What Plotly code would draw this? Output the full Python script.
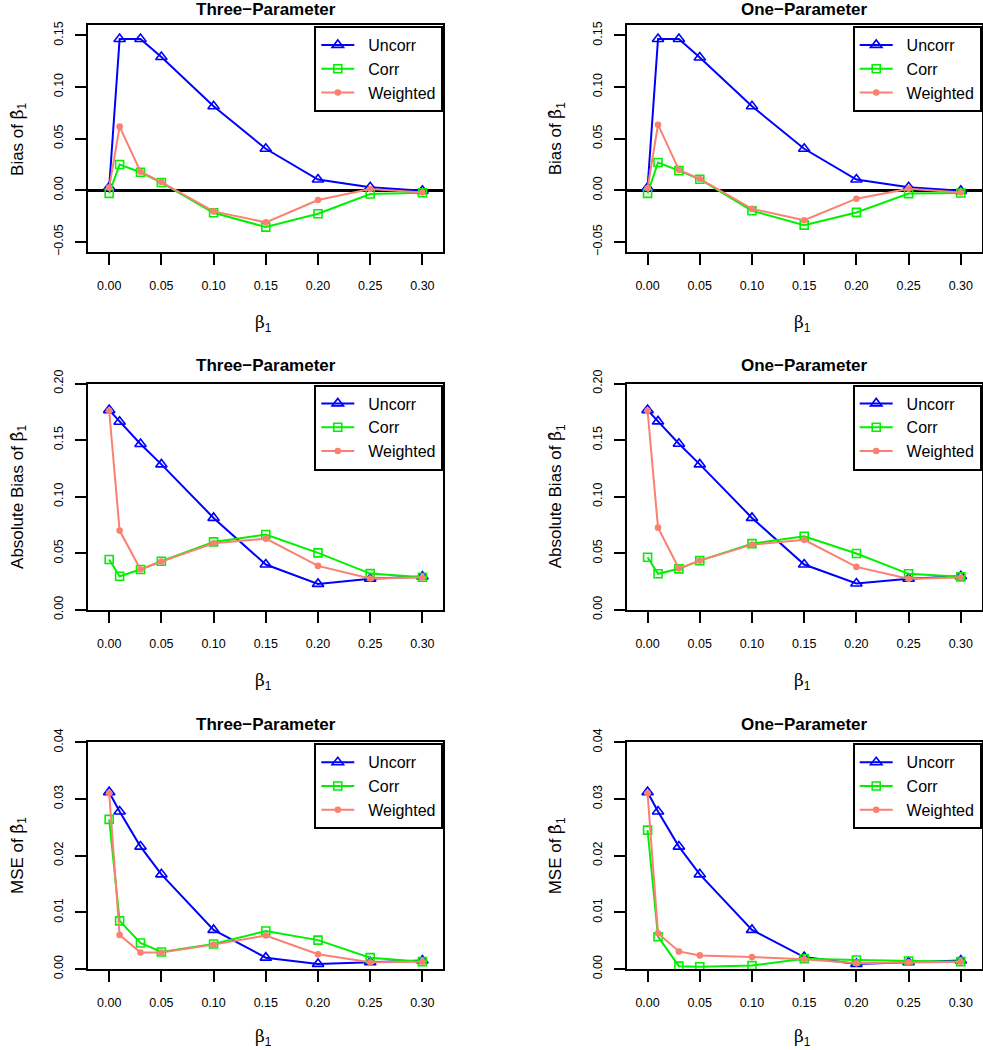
import plotly.graph_objects as go

# ---------------- data ----------------
beta1 = [0.00, 0.01, 0.03, 0.05, 0.10, 0.15, 0.20, 0.25, 0.30]
methods = ["Uncorr", "Corr", "Weighted"]
panel_titles = ["Three−Parameter", "One−Parameter"]
row_labels = ["Bias of", "Absolute Bias of", "MSE of"]
x_ticks = [0.00, 0.05, 0.10, 0.15, 0.20, 0.25, 0.30]
y_ticks_bias = [-0.05, 0.00, 0.05, 0.10, 0.15]
y_ticks_abs = [0.00, 0.05, 0.10, 0.15, 0.20]
y_ticks_mse = [0.00, 0.01, 0.02, 0.03, 0.04]

bias_three_uncorr = [0.003, 0.1464, 0.1464, 0.129, 0.0813, 0.0402, 0.0104, 0.0029, -0.0005]
bias_three_corr = [-0.003, 0.025, 0.0175, 0.0075, -0.0217, -0.0356, -0.0227, -0.0036, -0.0023]
bias_three_weighted = [0.0026, 0.0616, 0.018, 0.008, -0.0204, -0.031, -0.0094, 0.0013, -0.002]

bias_one_uncorr = [0.0026, 0.1464, 0.1464, 0.1286, 0.0813, 0.0402, 0.0104, 0.0029, -0.0005]
bias_one_corr = [-0.003, 0.0269, 0.0191, 0.0107, -0.0198, -0.0337, -0.0214, -0.0032, -0.0026]
bias_one_weighted = [0.002, 0.0635, 0.0198, 0.011, -0.018, -0.029, -0.0081, 0.0016, -0.002]

abs_three_uncorr = [0.1765, 0.1662, 0.1465, 0.1285, 0.0812, 0.040, 0.0229, 0.0274, 0.0294]
abs_three_corr = [0.0444, 0.0297, 0.0356, 0.0429, 0.060, 0.0665, 0.0503, 0.032, 0.0288]
abs_three_weighted = [0.1759, 0.070, 0.0356, 0.0426, 0.0588, 0.0629, 0.0388, 0.0276, 0.0285]

abs_one_uncorr = [0.1765, 0.1665, 0.1468, 0.1285, 0.0812, 0.040, 0.0232, 0.0274, 0.0297]
abs_one_corr = [0.0465, 0.0318, 0.0362, 0.0435, 0.0585, 0.065, 0.0497, 0.0318, 0.0291]
abs_one_weighted = [0.1759, 0.0726, 0.0365, 0.0435, 0.0576, 0.0618, 0.0379, 0.0274, 0.0285]

mse_three_uncorr = [0.0312, 0.0278, 0.0216, 0.0167, 0.0069, 0.0020, 0.0009, 0.0012, 0.0015]
mse_three_corr = [0.0264, 0.0085, 0.0046, 0.0030, 0.0044, 0.0067, 0.0051, 0.0020, 0.0013]
mse_three_weighted = [0.0310, 0.0060, 0.0029, 0.0029, 0.0043, 0.0059, 0.0026, 0.0012, 0.0013]

mse_one_uncorr = [0.0312, 0.0278, 0.0216, 0.0167, 0.0069, 0.0021, 0.0009, 0.0012, 0.0015]
mse_one_corr = [0.0245, 0.0057, 0.0005, 0.0004, 0.0006, 0.0018, 0.0016, 0.0014, 0.0013]
mse_one_weighted = [0.0310, 0.0063, 0.0031, 0.0024, 0.0021, 0.0017, 0.0010, 0.0012, 0.0013]

panels = [
    [[bias_three_uncorr, bias_three_corr, bias_three_weighted],
     [bias_one_uncorr, bias_one_corr, bias_one_weighted]],
    [[abs_three_uncorr, abs_three_corr, abs_three_weighted],
     [abs_one_uncorr, abs_one_corr, abs_one_weighted]],
    [[mse_three_uncorr, mse_three_corr, mse_three_weighted],
     [mse_one_uncorr, mse_one_corr, mse_one_weighted]],
]

# ---------------- layout / style ----------------
W, H = 983, 1050
FONT = "Liberation Sans, Arial, sans-serif"
SERIF = "'DejaVu Serif', 'Liberation Serif', serif"
colors = ["#0000FF", "#00F000", "#FA8072"]
symbols = ["triangle-up-open", "square-open", "circle"]
msizes = [10, 8, 5]
lwidths = [2, 2, 2]

col_px = [(88.3, 443.3), (626.7, 981.7)]
row_px = [(25.0, 252.3), (383.5, 609.8), (742.3, 969.0)]
title_px = [10, 365, 724]
xtitle_off = [71, 72, 68]
y_ranges = [[-0.06, 0.16], [0.0, 0.20], [0.0, 0.04]]
y_tickvals = [y_ticks_bias, y_ticks_abs, y_ticks_mse]
x_range = [-0.02, 0.32]

def fx(px):
    return px / W

def fy(py):
    return 1 - py / H

fig = go.Figure()
annotations = []
layout = {}

for r in range(3):
    for c in range(2):
        k = r * 2 + c + 1
        xa = "x" if k == 1 else f"x{k}"
        ya = "y" if k == 1 else f"y{k}"
        lg = "legend" if k == 1 else f"legend{k}"
        for m in range(3):
            fig.add_trace(go.Scatter(
                x=beta1, y=panels[r][c][m], mode="lines+markers",
                name="  " + methods[m], xaxis=xa, yaxis=ya, legend=lg,
                line=dict(color=colors[m], width=lwidths[m]),
                marker=dict(symbol=symbols[m], size=msizes[m], color=colors[m],
                            line=dict(color=colors[m], width=1.6)),
                showlegend=True, cliponaxis=True,
            ))
        x0, x1 = col_px[c]
        y0, y1 = row_px[r]
        axis_common = dict(showline=True, mirror=True, linecolor="black", linewidth=2,
                           ticks="outside", ticklen=11, tickwidth=2, tickcolor="black",
                           showgrid=False, automargin=False,
                           tickfont=dict(family=FONT, size=12.5, color="black"),
                           tickformat=".2f")
        layout["xaxis" if k == 1 else f"xaxis{k}"] = dict(
            domain=[fx(x0), fx(x1)], range=x_range, anchor=ya,
            tickvals=x_ticks, zeroline=False, ticklabelstandoff=10, **axis_common)
        layout["yaxis" if k == 1 else f"yaxis{k}"] = dict(
            domain=[fy(y1), fy(y0)], range=y_ranges[r], anchor=xa,
            tickvals=y_tickvals[r], tickangle=-90, ticklabelstandoff=7,
            zeroline=(r == 0), zerolinecolor="black", zerolinewidth=3, **axis_common)
        layout[lg] = dict(x=fx(x1), y=fy(y0 + 1), xanchor="right", yanchor="top",
                          bgcolor="white", bordercolor="black", borderwidth=2,
                          font=dict(family=FONT, size=16, color="black"),
                          itemwidth=33, tracegroupgap=0)
        xc = (x0 + x1) / 2
        # panel title
        annotations.append(dict(text="<b>" + panel_titles[c] + "</b>", x=fx(xc), y=fy(title_px[r]),
                                xref="paper", yref="paper", showarrow=False,
                                xanchor="center", yanchor="middle",
                                font=dict(family=FONT, size=17, color="black")))
        # x title
        annotations.append(dict(text=f"<span style=\"font-family:{SERIF}\">β</span><sub>1</sub>",
                                x=fx(xc - 2), y=fy(y1 + xtitle_off[r]), xref="paper", yref="paper",
                                showarrow=False, xanchor="center", yanchor="middle",
                                font=dict(family=FONT, size=17, color="black")))
        # y title
        annotations.append(dict(text=row_labels[r] + f" <span style=\"font-family:{SERIF}\">β\u0302</span><sub>1</sub>",
                                x=fx(x0 - 70), y=fy((y0 + y1) / 2), xref="paper", yref="paper",
                                showarrow=False, xanchor="center", yanchor="middle", textangle=-90,
                                font=dict(family=FONT, size=17, color="black")))

fig.update_layout(width=W, height=H, autosize=False,
                  margin=dict(l=0, r=0, t=0, b=0, pad=0, autoexpand=False),
                  paper_bgcolor="white", plot_bgcolor="white",
                  font=dict(family=FONT, color="black"),
                  annotations=annotations, **layout)

post = ("document.documentElement.style.margin='0';document.body.style.margin='0';"
        "document.body.style.padding='0';document.body.style.overflow='hidden';"
        "var d=document.getElementById('{plot_id}');d.style.position='absolute';"
        "d.style.left='0px';d.style.top='0px';")
fig.write_html("out.html", config={"displayModeBar": False}, post_script=post)
